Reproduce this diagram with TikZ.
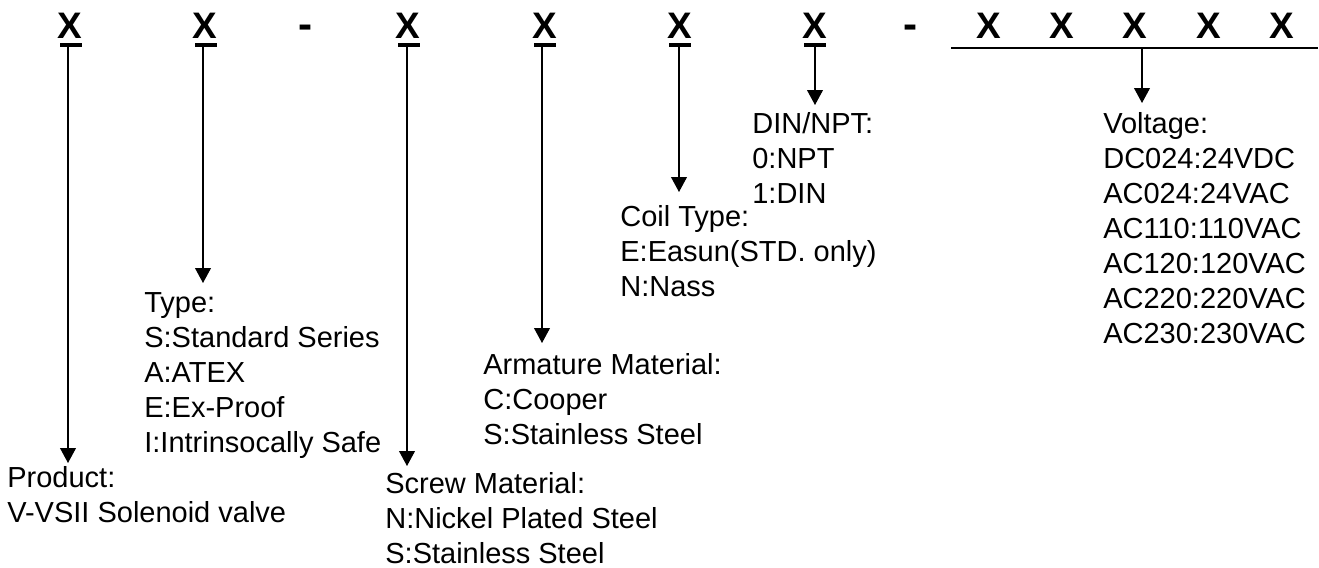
\documentclass[tikz,border=0pt]{standalone}
\usepackage{fontspec}
\setmainfont{Liberation Sans}
\usetikzlibrary{arrows.meta}
\begin{document}
\begin{tikzpicture}[x=0.02cm,y=-0.02cm,>={Triangle[width=9pt,length=8.5pt]},line join=round,
	code/.style={font=\fontsize{21}{25}\selectfont\bfseries,inner sep=0pt,anchor=base},
	info/.style={font=\fontsize{16.5}{19.9}\selectfont,align=left,inner sep=0pt,anchor=north west},
	bar/.style={line width=2.3pt},
	lead/.style={->,line width=0.7pt}]
	\useasboundingbox (0,0) rectangle (1319,568);
	% code letters
	\foreach \n/\x in {x1/70,x2/205,x3/408,x4/545,x5/680,x6/815,v1/989,v2/1062,v3/1135,v4/1209,v5/1282}
	{\node[code] (\n) at (\x,38.3) {X};}
	\node[code,font=\fontsize{24}{28}\selectfont\bfseries] (d1) at (306,38.3) {-};
	\node[code,font=\fontsize{24}{28}\selectfont\bfseries] (d2) at (911,38.3) {-};
	% underlines
	\foreach \x in {71,206,409,545,680,815}
	{\draw[bar] (\x-11,44.7) -- (\x+11,44.7);}
	\draw[line width=1.5pt] (951,48) -- (1318,48);
	\path (68,46.7) coordinate (s1) (203,46.7) coordinate (s2) (407,46.7) coordinate (s3)
	(542,46.7) coordinate (s4) (679,46.7) coordinate (s5) (815,46.7) coordinate (s6)
	(1142,49) coordinate (s7);
	% labels
	\node[info] (prod) at (7,466) {Product:\\V-VSII Solenoid valve};
	\node[info] (type) at (144,292) {Type:\\S:Standard Series\\A:ATEX\\E:Ex-Proof\\I:Intrinsocally Safe};
	\node[info] (screw) at (385,472) {Screw Material:\\N:Nickel Plated Steel\\S:Stainless Steel};
	\node[info] (arm) at (483,353) {Armature Material:\\C:Cooper\\S:Stainless Steel};
	\node[info] (coil) at (620,205) {Coil Type:\\E:Easun(STD. only)\\N:Nass};
	\node[info] (din) at (752,112) {DIN/NPT:\\0:NPT\\1:DIN};
	\node[info] (volt) at (1103,112) {Voltage:\\DC024:24VDC\\AC024:24VAC\\AC110:110VAC\\AC120:120VAC\\AC220:220VAC\\AC230:230VAC};
	\foreach \s/\t/\g in {s1/prod/3,s2/type/9,s3/screw/6,s4/arm/10,s5/coil/13,s6/din/7,s7/volt/9}
	{\draw[lead,shorten >=\g*0.02cm] (\s) -- (\s |- \t.north);}
\end{tikzpicture}
\end{document}
